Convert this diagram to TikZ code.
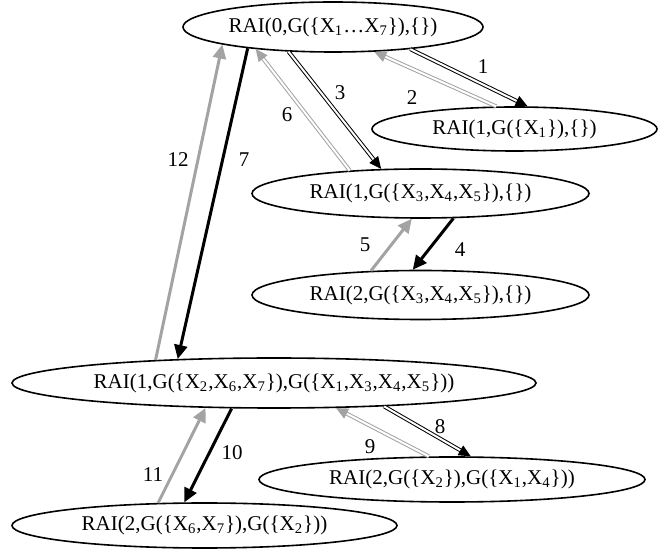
\documentclass[tikz,border=0pt]{standalone}
\usepackage{fontspec}
\setmainfont{Liberation Serif}
\usepackage{tikz}
\usetikzlibrary{arrows.meta, shapes.geometric}
\definecolor{greyarr}{HTML}{A3A3A3}

\begin{document}
\begin{tikzpicture}[x=0.5pt, y=-0.5pt,
  state/.style={ellipse, draw, line width=0.8pt, inner sep=0pt,
                font=\fontsize{10.5}{12}\selectfont},
  lbl/.style={font=\fontsize{10.5}{12}\selectfont},
  dblk/.style={draw=black, double=white, double distance=1pt, line width=0.5pt,
               -{Triangle[length=6pt,width=5.5pt]}},
  dgry/.style={dblk, draw=greyarr},
  tblk/.style={draw=black, line width=1.5pt, -{Triangle[length=7pt,width=6.5pt]}},
  tgry/.style={tblk, draw=greyarr}]
  \useasboundingbox (0,0) rectangle (659,550);
  % states of the search
  \node[state, minimum width=150pt, minimum height=25pt] (s0) at (333,27)
    {RAI(0,G(\{X\textsubscript{1}…X\textsubscript{7}\}),\{\})};
  \node[state, minimum width=142.5pt, minimum height=22pt] (s1) at (514.5,129)
    {RAI(1,G(\{X\textsubscript{1}\}),\{\})};
  \node[state, minimum width=168.5pt, minimum height=24.5pt] (s2) at (420.5,193.5)
    {RAI(1,G(\{X\textsubscript{3},X\textsubscript{4},X\textsubscript{5}\}),\{\})};
  \node[state, minimum width=168.5pt, minimum height=24.5pt] (s3) at (420.5,295)
    {RAI(2,G(\{X\textsubscript{3},X\textsubscript{4},X\textsubscript{5}\}),\{\})};
  \node[state, minimum width=262pt, minimum height=25pt] (s4) at (274,383)
    {RAI(1,G(\{X\textsubscript{2},X\textsubscript{6},X\textsubscript{7}\}),G(\{X\textsubscript{1},X\textsubscript{3},X\textsubscript{4},X\textsubscript{5}\}))};
  \node[state, minimum width=193pt, minimum height=22.5pt] (s5) at (452,479.5)
    {RAI(2,G(\{X\textsubscript{2}\}),G(\{X\textsubscript{1},X\textsubscript{4}\}))};
  \node[state, minimum width=192.5pt, minimum height=22.5pt] (s6) at (204.5,525.5)
    {RAI(2,G(\{X\textsubscript{6},X\textsubscript{7}\}),G(\{X\textsubscript{2}\}))};

  % steps
  \draw[dblk] (s0.-16) -- (s1.60);   % 1
  \draw[dgry] (s1.129) -- (s0.-31);  % 2
  \draw[dblk] (s0.209) -- (s2.148);  % 3
  \draw[tblk] (s2.-37) -- (s3.107);  % 4
  \draw[tgry] (s3.154) -- (s2.251);  % 5
  \draw[dgry] (s2.162) -- (s0.196);  % 6
  \draw[tblk] (s0.194) -- (s4.166);  % 7
  \draw[dblk] (s4.-12) -- (s5.51);   % 8
  \draw[dgry] (s5.135) -- (s4.-22);  % 9
  \draw[tblk] (s4.211) -- (s6.131);  % 10
  \draw[tgry] (s6.154) -- (s4.200);  % 11
  \draw[tgry] (s4.169) -- (s0.189);  % 12

  % step numbers
  \node[lbl] (n1) at (483,67) {1};
  \node[lbl] (n2) at (412,98) {2};
  \node[lbl] (n3) at (340,93) {3};
  \node[lbl] (n4) at (460,250) {4};
  \node[lbl] (n5) at (365,245) {5};
  \node[lbl] (n6) at (287,115) {6};
  \node[lbl] (n7) at (244,160) {7};
  \node[lbl] (n8) at (440,427) {8};
  \node[lbl] (n9) at (370,447) {9};
  \node[lbl] (n10) at (232,453) {10};
  \node[lbl] (n11) at (153,475) {11};
  \node[lbl] (n12) at (178,160) {12};
\end{tikzpicture}
\end{document}
